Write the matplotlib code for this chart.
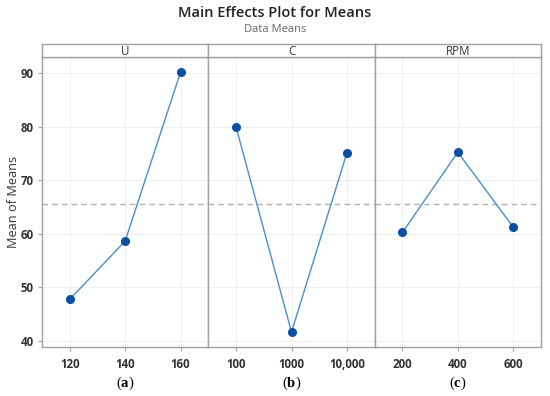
import matplotlib
matplotlib.use("Agg")
import matplotlib.pyplot as plt

factors = ["U", "C", "RPM"]
levels_U = ["120", "140", "160"]
levels_C = ["100", "1000", "10,000"]
levels_RPM = ["200", "400", "600"]
means_U = [47.7, 58.6, 90.2]
means_C = [79.9, 41.6, 75.1]
means_RPM = [60.2, 75.2, 61.2]
panel_tags = ["a", "b", "c"]
y_ticks = [40, 50, 60, 70, 80, 90]

levels = [levels_U, levels_C, levels_RPM]
means = [means_U, means_C, means_RPM]
grand_mean = sum(means_U) / len(means_U)

plt.rcParams['font.family'] = ['Open Sans', 'DejaVu Sans']
plt.rcParams['mathtext.fontset'] = 'custom'
plt.rcParams['mathtext.rm'] = 'Liberation Serif'
plt.rcParams['mathtext.bf'] = 'Liberation Serif:bold'

fig = plt.figure(figsize=(5.5, 3.96), dpi=100)
left, right = 42 / 550, 541 / 550
bottom, top = 1 - 347 / 396, 1 - 57 / 396
strip_top = 1 - 44 / 396
w = (right - left) / 3
ax_px = w * 550
spine_col = "#a0a0a0"
line_col = "#4a8fc8"
mark_col = "#0b4fa3"
tick_col = "#333333"

for i in range(3):
    ax = fig.add_axes([left + i * w, bottom, w, top - bottom])
    x = list(range(len(levels[i])))
    ax.plot(x, means[i], color=line_col, lw=1.0, zorder=3)
    ax.plot(x, means[i], 'o', color=mark_col, ms=5.5, zorder=4)
    ax.axhline(grand_mean, color="#b0b0b0", ls=(0, (4, 3)), lw=1.0, zorder=2)
    ax.set_xlim(-0.5, 2.5)
    ax.set_ylim(38.8, 93)
    ax.set_xticks(x)
    ax.set_xticklabels(levels[i], fontsize=8.3, fontweight='bold', color=tick_col)
    ax.set_yticks(y_ticks)
    ax.grid(True, color="#efefef", lw=0.7, zorder=0)
    ax.set_axisbelow(True)
    for s in ax.spines.values():
        s.set_color(spine_col)
        s.set_linewidth(1.0)
    ax.tick_params(axis='x', length=3, color=spine_col, pad=5)
    if i == 0:
        ax.set_yticklabels([str(v) for v in y_ticks], fontsize=8.3,
                           fontweight='bold', color=tick_col)
        ax.tick_params(axis='y', length=3, color=spine_col, pad=3)
        ax.set_ylabel("Mean of Means", fontsize=9.2, color=tick_col)
        ax.yaxis.set_label_coords(-28 / ax_px, 0.5)
        ax.yaxis.label.set_va('center')
    else:
        ax.tick_params(axis='y', length=0, labelleft=False)
    # strip
    sax = fig.add_axes([left + i * w, top, w, strip_top - top])
    sax.set_xticks([])
    sax.set_yticks([])
    sax.set_facecolor("#ffffff")
    for s in sax.spines.values():
        s.set_color(spine_col)
        s.set_linewidth(1.0)
    sax.text(0.5, 0.45, factors[i], ha='center', va='center', fontsize=8.3,
             color=tick_col, transform=sax.transAxes)
    fig.text(left + (i + 0.5) * w, 1 - 383 / 396,
             r"($\mathbf{" + panel_tags[i] + r"}$)",
             ha='center', va='center', fontsize=10.5, family='Liberation Serif')

fig.text(0.5, 1 - 13 / 396, "Main Effects Plot for Means", ha='center',
         va='center', fontsize=10.5, fontweight='semibold', color="#222222")
fig.text(0.5, 1 - 29 / 396, "Data Means", ha='center', va='center',
         fontsize=8, color="#666666")

fig.savefig("out.png", dpi=100)
